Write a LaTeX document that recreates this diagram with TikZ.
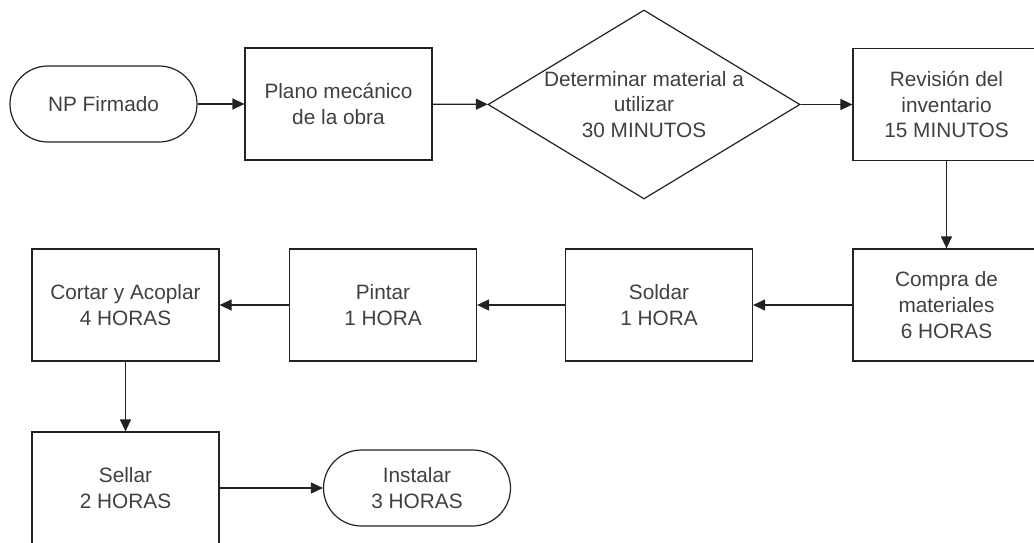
\documentclass[tikz,border=0pt]{standalone}
\usepackage{fontspec}
\setmainfont{Liberation Sans}
\usepackage{tikz}
\usetikzlibrary{shapes.geometric,arrows.meta}
\definecolor{fcline}{RGB}{34,34,34}
\definecolor{fctext}{RGB}{64,64,64}
\tikzset{
  base/.style={draw=fcline,line width=1.2pt,text=fctext,align=center,
    font=\fontsize{20.8}{25.7}\selectfont,inner sep=2pt},
  proc/.style={base,rectangle,minimum width=187pt,minimum height=112pt},
  term/.style={base,rectangle,rounded corners=38pt,minimum width=187pt,minimum height=76pt},
  decision/.style={base,diamond,minimum width=312pt,minimum height=189pt},
  plain/.style={text=fctext,align=center,font=\fontsize{20.8}{25.7}\selectfont,inner sep=0pt},
  flow/.style={draw=fcline,line width=1.2pt,-{Triangle[length=12pt,width=11pt]}},
}
\newcommand{\paso}[3]{\node[proc] (#1) at (#2) {#3};}
\newcommand{\fin}[3]{\node[term] (#1) at (#2) {#3};}

\begin{document}
\begin{tikzpicture}[x=1pt,y=1pt]
        \useasboundingbox (0,0) rectangle (1034,542);
        % first row
        \fin{np}{103.5,438}{NP Firmado}
        \paso{plano}{338.5,438}{Plano mecánico\\de la obra}
        \node[decision] (det) at (644,437.5) {};
        \node[plain] (detlbl) at (det) {Determinar material a\\utilizar\\30 MINUTOS};
        \paso{rev}{946.5,437.5}{Revisión del\\inventario\\15 MINUTOS}
        % second row
        \paso{compra}{946.5,237}{Compra de\\materiales\\6 HORAS}
        \paso{soldar}{659,237}{Soldar\\1 HORA}
        \paso{pintar}{383,237}{Pintar\\1 HORA}
        \paso{cortar}{125.5,237}{Cortar y Acoplar\\4 HORAS}
        % last row
        \paso{sellar}{125.5,54}{Sellar\\2 HORAS}
        \fin{inst}{417,54}{Instalar\\3 HORAS}
        \foreach \a/\b in {np/plano,plano/det,det/rev,rev/compra,compra/soldar,
          soldar/pintar,pintar/cortar,cortar/sellar,sellar/inst}
          \draw[flow] (\a) -- (\b);
      \end{tikzpicture}
\end{document}
